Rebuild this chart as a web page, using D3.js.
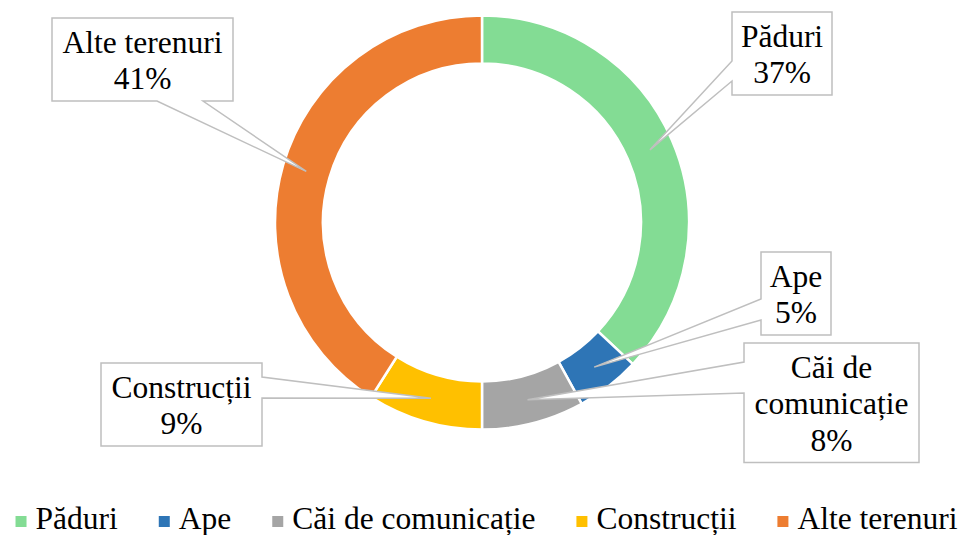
<!DOCTYPE html>
<html>
<head>
<meta charset="utf-8">
<script src="https://cdn.jsdelivr.net/npm/d3@7"></script>
<style>
  body { margin: 0; background: #fff; }
  svg { display: block; }
</style>
</head>
<body>
<svg width="965" height="535"></svg>
<script>
// data
var categories = ["Păduri", "Ape", "Căi de comunicație", "Construcții", "Alte terenuri"];
var values = [37, 5, 8, 9, 41];
var colors = ["#83dc94", "#2e75b6", "#a5a5a5", "#ffc000", "#ed7d31"];
// label text lines (category name wrapped as in the chart)
var labelLines = [["Păduri"], ["Ape"], ["Căi de", "comunicație"], ["Construcții"], ["Alte terenuri"]];

// callout boxes: x, y, width, side of pointer, pointer base (two coords along that side)
var callouts = [
    { x: 732, y: 12, w: 100, side: "left", a: 61, b: 81 },
    { x: 761, y: 252, w: 70, side: "left", a: 299, b: 320 },
    { x: 744, y: 343, w: 175, side: "left", a: 362, b: 393 },
    { x: 101, y: 363, w: 161, side: "right", a: 377, b: 398 },
    { x: 52, y: 18, w: 181, side: "bottom", a: 157, b: 203 }
];

var svg = d3.select("svg"),
    cx = 482, cy = 222.5,
    outerR = 207, innerR = 159,
    font = "'Liberation Serif', 'Times New Roman', serif",
    fontSize = 31.5, lineH = 36.5;

var total = d3.sum(values);
var data = categories.map(function (c, i) {
    return { name: c, value: values[i], color: colors[i], lines: labelLines[i], box: callouts[i] };
});

var pie = d3.pie().sort(null).value(function (d) { return d.value; });
var arc = d3.arc().innerRadius(innerR).outerRadius(outerR);
var midArc = d3.arc().innerRadius((innerR + outerR) / 2).outerRadius((innerR + outerR) / 2);

var g = svg.append("g").attr("transform", "translate(" + cx + "," + cy + ")");
var arcs = pie(data);

g.selectAll("path.slice")
    .data(arcs)
    .enter().append("path")
    .attr("class", "slice")
    .attr("d", arc)
    .attr("fill", function (d) { return d.data.color; })
    .attr("stroke", "#fff")
    .attr("stroke-width", 2.5);

// callouts
arcs.forEach(function (d) {
    var b = d.data.box,
        h = (d.data.lines.length + 1) * lineH + 10,
        c = midArc.centroid(d),
        tx = cx + c[0], ty = cy + c[1],
        x0 = b.x, y0 = b.y, x1 = b.x + b.w, y1 = b.y + h;
    var p = d3.path();
    p.moveTo(x0, y0);
    p.lineTo(x1, y0);
    if (b.side === "right") { p.lineTo(x1, b.a); p.lineTo(tx, ty); p.lineTo(x1, b.b); }
    p.lineTo(x1, y1);
    if (b.side === "bottom") { p.lineTo(b.b, y1); p.lineTo(tx, ty); p.lineTo(b.a, y1); }
    p.lineTo(x0, y1);
    if (b.side === "left") { p.lineTo(x0, b.b); p.lineTo(tx, ty); p.lineTo(x0, b.a); }
    p.closePath();

    svg.append("path")
        .attr("d", p.toString())
        .attr("fill", "#fff")
        .attr("stroke", "#bfbfbf")
        .attr("stroke-width", 1.5);

    var txt = svg.append("text")
        .attr("text-anchor", "middle")
        .style("font-family", font)
        .attr("font-size", fontSize)
        .attr("fill", "#000");
    var lines = d.data.lines.concat([Math.round(d.data.value / total * 100) + "%"]);
    lines.forEach(function (l, i) {
        txt.append("tspan")
            .attr("x", b.x + b.w / 2)
            .attr("y", b.y + 34.5 + i * lineH)
            .text(l);
    });
});

// legend
var legend = svg.append("g");
var items = legend.selectAll("g")
    .data(data)
    .enter().append("g");
items.append("rect")
    .attr("width", 11)
    .attr("height", 11)
    .attr("y", 516)
    .attr("fill", function (d) { return d.color; });
items.append("text")
    .attr("x", 20)
    .attr("y", 529)
    .style("font-family", font)
    .attr("font-size", fontSize)
    .attr("fill", "#000")
    .text(function (d) { return d.name; });

var xPos = 0, gap = 41, offsets = [];
items.each(function () {
    offsets.push(xPos);
    xPos += 20 + d3.select(this).select("text").node().getComputedTextLength() + gap;
});
var legendW = xPos - gap, start = 486.5 - legendW / 2;
items.attr("transform", function (d, i) { return "translate(" + (start + offsets[i]) + ",0)"; });
</script>
</body>
</html>
